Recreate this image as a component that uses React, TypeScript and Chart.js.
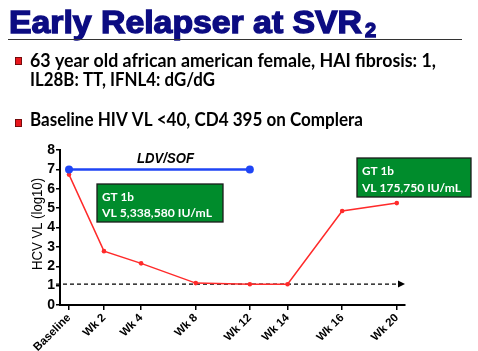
import React, { useEffect, useRef } from "react";
import { Chart, registerables } from "chart.js";

Chart.register(...registerables);

const categories = ["Baseline", "Wk 2", "Wk 4", "Wk 8", "Wk 12", "Wk 14", "Wk 16", "Wk 20"];
const positions = [0, 0.64, 1.32, 2.32, 3.31, 4.0, 5.0, 6.0];
const hcvLog = [6.73, 2.78, 2.15, 1.13, 1.07, 1.07, 4.85, 5.26];
const yTicks = [0, 1, 2, 3, 4, 5, 6, 7, 8];
const therapyLevel = 7;
const therapyStartIdx = 0;
const therapyEndIdx = 4;
const lloq = 1.08;

const titleText = "Early Relapser at SVR";
const titleSub = "2";
const bullet1a = "63 year old african american female, HAI fibrosis: 1,";
const bullet1b = "IL28B: TT, IFNL4: dG/dG";
const bullet2 = "Baseline HIV VL <40, CD4 395 on Complera";
const box1Lines = ["GT 1b", "VL 5,338,580 IU/mL"];
const box2Lines = ["GT 1b", "VL 175,750 IU/mL"];
const therapyLabel = "LDV/SOF";
const yTitle = "HCV VL (log10)";

function fitText(ctx: CanvasRenderingContext2D, text: string, x: number, y: number, w: number) {
  const m = ctx.measureText(text).width;
  ctx.save();
  ctx.translate(x, y);
  ctx.scale(w / m, 1);
  ctx.fillText(text, 0, 0);
  ctx.restore();
}

const decorPlugin = {
  id: "decor",
  beforeDatasetsDraw(chart: any) {
    const ctx = chart.ctx as CanvasRenderingContext2D;
    const ya = chart.scales.y;
    const area = chart.chartArea;
    const yy = ya.getPixelForValue(lloq);
    ctx.save();
    ctx.strokeStyle = "#000";
    ctx.lineWidth = 1.3;
    ctx.setLineDash([4, 3]);
    ctx.beginPath();
    ctx.moveTo(area.left - 4, yy);
    ctx.lineTo(area.right - 6, yy);
    ctx.stroke();
    ctx.setLineDash([]);
    ctx.fillStyle = "#000";
    ctx.beginPath();
    ctx.moveTo(area.right, yy);
    ctx.lineTo(area.right - 7, yy - 3.5);
    ctx.lineTo(area.right - 7, yy + 3.5);
    ctx.closePath();
    ctx.fill();
    ctx.restore();
  },
  afterDraw(chart: any) {
    const ctx = chart.ctx as CanvasRenderingContext2D;
    ctx.save();
    ctx.textBaseline = "alphabetic";
    ctx.textAlign = "left";
    // Title
    ctx.fillStyle = "#0c0c82";
    ctx.strokeStyle = "#0c0c82";
    ctx.font = 'bold 32px "Liberation Sans", Arial, sans-serif';
    ctx.lineWidth = 1.4;
    const m = ctx.measureText(titleText).width;
    ctx.save();
    ctx.translate(9, 33);
    ctx.scale(353 / m, 1);
    ctx.fillText(titleText, 0, 0);
    ctx.strokeText(titleText, 0, 0);
    ctx.restore();
    ctx.font = 'bold 20px "Liberation Sans", Arial, sans-serif';
    ctx.fillText(titleSub, 365, 37);
    ctx.strokeText(titleSub, 365, 37);
    // underline
    ctx.strokeStyle = "#333";
    ctx.lineWidth = 1;
    ctx.beginPath();
    ctx.moveTo(8, 39.5);
    ctx.lineTo(462, 39.5);
    ctx.stroke();
    // bullets
    const drawBullet = (x: number, y: number) => {
      ctx.fillStyle = "#e8161c";
      ctx.fillRect(x, y, 7, 8);
      ctx.strokeStyle = "#5a0a0a";
      ctx.lineWidth = 0.8;
      ctx.strokeRect(x + 0.4, y + 0.4, 6.2, 7.2);
    };
    drawBullet(15, 57);
    drawBullet(15, 119);
    ctx.fillStyle = "#000";
    ctx.font = 'bold 18px Lato, "Open Sans", sans-serif';
    fitText(ctx, bullet1a, 30, 67, 406);
    fitText(ctx, bullet1b, 30, 86, 185);
    fitText(ctx, bullet2, 30, 126, 333);
    // therapy label
    ctx.font = 'italic bold 14px "Liberation Sans", Arial, sans-serif';
    fitText(ctx, therapyLabel, 137, 163, 57);
    // green boxes
    const drawBox = (x: number, y: number, w: number, h: number, lines: string[], widths: number[], bases: number[]) => {
      ctx.fillStyle = "#008c2c";
      ctx.fillRect(x, y, w, h);
      ctx.strokeStyle = "#1b1b1b";
      ctx.lineWidth = 1.3;
      ctx.strokeRect(x, y, w, h);
      ctx.fillStyle = "#fff";
      ctx.font = 'bold 12px Lato, "Open Sans", sans-serif';
      lines.forEach((t, i) => fitText(ctx, t, x + 5, bases[i], widths[i]));
    };
    drawBox(97, 184, 126, 38, box1Lines, [32, 110], [201, 217]);
    drawBox(357, 158, 114, 39, box2Lines, [32, 99], [175, 192]);
    // y title
    ctx.fillStyle = "#000";
    ctx.font = '15px "Liberation Sans", Arial, sans-serif';
    ctx.save();
    ctx.translate(42, 224);
    ctx.rotate(-Math.PI / 2);
    ctx.textAlign = "center";
    const tw = ctx.measureText(yTitle).width;
    ctx.scale(92 / tw, 1);
    ctx.fillText(yTitle, 0, 0);
    ctx.restore();
    ctx.restore();
  },
};

export default function App() {
  const ref = useRef<HTMLCanvasElement | null>(null);
  useEffect(() => {
    if (!ref.current) return;
    const redData = positions.map((p, i) => ({ x: p, y: hcvLog[i] }));
    const blueData = [
      { x: positions[therapyStartIdx], y: therapyLevel },
      { x: positions[therapyEndIdx], y: therapyLevel },
    ];
    const chart = new Chart(ref.current, {
      type: "line",
      data: {
        datasets: [
          {
            data: blueData,
            borderColor: "#1f45f5",
            backgroundColor: "#1f45f5",
            borderWidth: 2.5,
            pointRadius: 4,
            pointBorderWidth: 0,
          },
          {
            data: redData,
            borderColor: "#ff2a2a",
            backgroundColor: "#ff2a2a",
            borderWidth: 1.5,
            pointRadius: 2.3,
            pointBorderWidth: 0,
          },
        ],
      },
      options: {
        responsive: false,
        animation: false,
        devicePixelRatio: 1,
        layout: { padding: { left: 0, top: 150, right: 73, bottom: 0 } },
        plugins: { legend: { display: false }, tooltip: { enabled: false } },
        scales: {
          x: {
            type: "linear",
            min: -0.165,
            max: 6.15,
            afterFit: (s: any) => {
              s.height = 46;
            },
            afterBuildTicks: (s: any) => {
              s.ticks = positions.map((v) => ({ value: v }));
            },
            grid: { drawOnChartArea: false, drawTicks: true, tickLength: 5, color: "#000", lineWidth: 1.5 },
            border: { display: true, color: "#000", width: 2 },
            ticks: {
              autoSkip: false,
              minRotation: 45,
              maxRotation: 45,
              padding: 1,
              color: "#000",
              font: { family: '"Liberation Sans", Arial, sans-serif', size: 11.5, weight: "bold" },
              callback: (v: any) => {
                const i = positions.indexOf(Number(v));
                return i >= 0 ? categories[i] : "";
              },
            },
          },
          y: {
            min: 0,
            max: 8,
            afterFit: (s: any) => {
              s.width = 60;
            },
            afterBuildTicks: (s: any) => {
              s.ticks = yTicks.map((v) => ({ value: v }));
            },
            grid: { drawOnChartArea: false, drawTicks: true, tickLength: 4, color: "#000", lineWidth: 1.5 },
            border: { display: true, color: "#000", width: 2 },
            ticks: {
              autoSkip: false,
              padding: 1,
              color: "#000",
              font: { family: '"Liberation Sans", Arial, sans-serif', size: 14, weight: "bold" },
            },
          },
        },
      },
      plugins: [decorPlugin],
    } as any);
    return () => chart.destroy();
  }, []);
  return (
    <div style={{ position: "fixed", left: 0, top: 0, width: 478, height: 351, background: "#fff" }}>
      <canvas ref={ref} width={478} height={351} />
    </div>
  );
}
